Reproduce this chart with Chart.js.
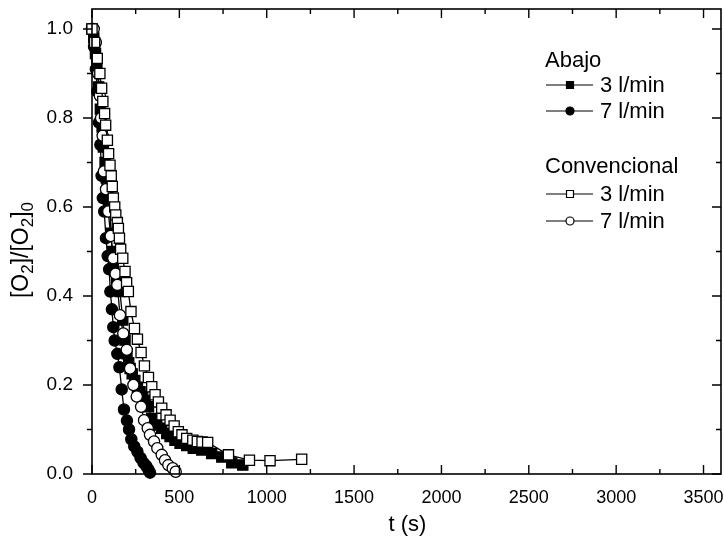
<!DOCTYPE html>
<html>
<head>
<meta charset="utf-8">
<title>[O2]/[O2]0 vs t</title>
<script src="https://cdn.jsdelivr.net/npm/chart.js@4.4.1/dist/chart.umd.min.js"></script>
<style>
  body { margin: 0; background: #fff; }
  #wrap { width: 724px; height: 542px; }
</style>
</head>
<body>
<div id="wrap"><canvas id="o2Chart" width="724" height="542"></canvas></div>
<script>
const FONT = '"Liberation Sans", Arial, Helvetica, sans-serif';

// axis ticks
const xTicks = [0, 500, 1000, 1500, 2000, 2500, 3000, 3500];
const yTicks = [0, 0.2, 0.4, 0.6, 0.8, 1.0];

// Abajo, 3 l/min (filled squares)
const abajo3T = [0, 10, 20, 28, 38, 48, 58, 65, 75, 82, 88, 95, 102, 110, 116, 122, 141, 160, 176, 189, 200, 210, 218, 230, 245, 260, 275, 290, 304, 323, 342, 370, 399, 428, 447, 475, 504, 542, 580, 628, 685, 743, 800, 863];
const abajo3V = [1.0, 0.98, 0.945, 0.92, 0.87, 0.82, 0.78, 0.735, 0.70, 0.665, 0.634, 0.61, 0.59, 0.541, 0.50, 0.462, 0.436, 0.41, 0.346, 0.301, 0.27, 0.25, 0.237, 0.225, 0.21, 0.195, 0.185, 0.175, 0.165, 0.151, 0.125, 0.11, 0.103, 0.091, 0.084, 0.076, 0.069, 0.064, 0.058, 0.054, 0.046, 0.038, 0.025, 0.02];

// Abajo, 7 l/min (filled circles)
const abajo7T = [0, 12, 22, 30, 40, 48, 55, 62, 70, 80, 90, 98, 105, 114, 122, 130, 145, 157, 170, 183, 200, 212, 225, 242, 260, 278, 295, 310, 323, 332];
const abajo7V = [1.0, 0.96, 0.91, 0.86, 0.79, 0.74, 0.67, 0.62, 0.59, 0.53, 0.49, 0.46, 0.41, 0.37, 0.33, 0.30, 0.27, 0.24, 0.19, 0.145, 0.12, 0.10, 0.078, 0.062, 0.05, 0.036, 0.025, 0.018, 0.01, 0.003];

// Convencional, 3 l/min (open squares)
const conv3T = [0, 15, 30, 45, 55, 62, 72, 78, 88, 95, 103, 110, 116, 122, 130, 136, 145, 151, 157, 164, 176, 189, 198, 208, 223, 243, 260, 281, 300, 323, 342, 361, 380, 399, 424, 447, 470, 494, 515, 542, 577, 603, 630, 662, 781, 901, 1019, 1200];
const conv3V = [1.0, 0.97, 0.934, 0.90, 0.867, 0.837, 0.81, 0.784, 0.75, 0.72, 0.694, 0.67, 0.646, 0.62, 0.60, 0.582, 0.565, 0.552, 0.53, 0.505, 0.485, 0.455, 0.43, 0.41, 0.365, 0.327, 0.303, 0.273, 0.243, 0.217, 0.196, 0.178, 0.162, 0.148, 0.133, 0.121, 0.108, 0.095, 0.088, 0.08, 0.076, 0.073, 0.072, 0.071, 0.043, 0.031, 0.03, 0.033];

// Convencional, 7 l/min (open circles)
const conv7T = [10, 22, 35, 45, 52, 61, 68, 80, 93, 107, 122, 135, 145, 160, 179, 199, 218, 237, 256, 281, 298, 319, 332, 355, 374, 399, 418, 437, 462, 479];
const conv7V = [1.0, 0.97, 0.90, 0.85, 0.80, 0.76, 0.68, 0.64, 0.59, 0.535, 0.485, 0.45, 0.425, 0.357, 0.316, 0.279, 0.237, 0.20, 0.174, 0.151, 0.121, 0.103, 0.088, 0.073, 0.058, 0.043, 0.031, 0.02, 0.013, 0.005];

function series(group, label, ts, vs, shape, fill, order) {
  return {
    group: group,
    label: label,
    data: ts.map((t, i) => ({ x: t, y: vs[i] })),
    borderColor: '#000',
    borderWidth: 1.3,
    pointStyle: shape,
    pointRadius: shape === 'rect' ? 7.2 : 5.6,
    pointBackgroundColor: fill,
    pointBorderColor: '#000',
    pointBorderWidth: 1.3,
    tension: 0,
    clip: false,
    order: order
  };
}

// box frame with minor/major ticks (left ticks outward, the rest inward),
// x tick labels and both axis titles
const framePlugin = {
  id: 'frame',
  afterDraw(chart) {
    const { ctx, chartArea: a, scales: { x, y } } = chart;
    ctx.save();
    ctx.strokeStyle = '#000';
    ctx.lineWidth = 1.6;
    ctx.strokeRect(a.left, a.top, a.right - a.left, a.bottom - a.top);
    ctx.lineWidth = 1.4;
    ctx.beginPath();
    const xMinor = xTicks.slice(0, -1).map((v, i) => (v + xTicks[i + 1]) / 2);
    const yMinor = yTicks.slice(0, -1).map((v, i) => (v + yTicks[i + 1]) / 2);
    const tickX = (vals, len) => vals.forEach(v => {
      const px = x.getPixelForValue(v);
      ctx.moveTo(px, a.bottom); ctx.lineTo(px, a.bottom - len);
      ctx.moveTo(px, a.top); ctx.lineTo(px, a.top + len);
    });
    const tickY = (vals, len) => vals.forEach(v => {
      const py = y.getPixelForValue(v);
      ctx.moveTo(a.left, py); ctx.lineTo(a.left - len, py);
      ctx.moveTo(a.right, py); ctx.lineTo(a.right - len, py);
    });
    tickX(xTicks, 9); tickX(xMinor, 5);
    tickY(yTicks, 9); tickY(yMinor, 5);
    ctx.stroke();

    ctx.fillStyle = '#000';
    ctx.textAlign = 'center';
    ctx.textBaseline = 'middle';
    ctx.font = '18px ' + FONT;
    xTicks.forEach(v => ctx.fillText(String(v), x.getPixelForValue(v), a.bottom + 24));

    ctx.font = '22px ' + FONT;
    ctx.fillText('t (s)', (a.left + a.right) / 2 + 1, 525);

    const parts = [['[O', 0], ['2', 1], [']/[O', 0], ['2', 1], [']', 0], ['0', 1]];
    const big = '23px ' + FONT, small = '17px ' + FONT;
    let w = 0;
    parts.forEach(([s, sub]) => { ctx.font = sub ? small : big; w += ctx.measureText(s).width; });
    ctx.translate(28, 250);
    ctx.rotate(-Math.PI / 2);
    ctx.textAlign = 'left';
    ctx.textBaseline = 'alphabetic';
    let cx = -w / 2;
    parts.forEach(([s, sub]) => {
      ctx.font = sub ? small : big;
      ctx.fillText(s, cx, sub ? 5 : 0);
      cx += ctx.measureText(s).width;
    });
    ctx.restore();
  }
};

// grouped legend: header line per group, then sample line + marker + label
const legendPlugin = {
  id: 'groupedLegend',
  afterDraw(chart) {
    const ctx = chart.ctx;
    const sets = chart.data.datasets;
    const heads = [{ name: 'Abajo', base: 67, rows: [85, 111] }, { name: 'Convencional', base: 173, rows: [194, 221] }];
    ctx.save();
    ctx.fillStyle = '#000';
    ctx.strokeStyle = '#000';
    ctx.font = '22px ' + FONT;
    heads.forEach(h => {
      ctx.textAlign = 'left';
      ctx.textBaseline = 'alphabetic';
      ctx.fillText(h.name, 545, h.base);
      const members = sets.filter(d => d.group === h.name);
      members.forEach((d, i) => {
        const ly = h.rows[i];
        ctx.lineWidth = 1.2;
        ctx.beginPath();
        ctx.moveTo(546, ly); ctx.lineTo(593, ly);
        ctx.stroke();
        ctx.fillStyle = d.pointBackgroundColor;
        ctx.beginPath();
        if (d.pointStyle === 'rect') ctx.rect(566.5, ly - 3.5, 7, 7);
        else ctx.arc(570, ly, 4, 0, Math.PI * 2);
        ctx.fill();
        ctx.stroke();
        ctx.fillStyle = '#000';
        ctx.textBaseline = 'middle';
        ctx.fillText(d.label, 600, ly + 1);
        ctx.textBaseline = 'alphabetic';
      });
    });
    ctx.restore();
  }
};

new Chart(document.getElementById('o2Chart').getContext('2d'), {
  type: 'line',
  data: {
    datasets: [
      series('Abajo', '3 l/min', abajo3T, abajo3V, 'rect', '#000', 2),
      series('Abajo', '7 l/min', abajo7T, abajo7V, 'circle', '#000', 3),
      series('Convencional', '3 l/min', conv3T, conv3V, 'rect', '#fff', 0),
      series('Convencional', '7 l/min', conv7T, conv7V, 'circle', '#fff', 1)
    ]
  },
  options: {
    responsive: false,
    animation: false,
    layout: { autoPadding: false, padding: { top: 9, right: 3, left: 0, bottom: 0 } },
    plugins: { legend: { display: false }, tooltip: { enabled: false } },
    scales: {
      x: {
        type: 'linear',
        min: 0,
        max: 3600,
        grid: { display: false },
        border: { display: false },
        afterBuildTicks: s => { s.ticks = xTicks.map(v => ({ value: v })); },
        afterFit: s => { s.height = 68; s.paddingLeft = 0; s.paddingRight = 0; },
        ticks: { display: false }
      },
      y: {
        min: 0,
        max: 1.045,
        grid: { display: false },
        border: { display: false },
        afterBuildTicks: s => { s.ticks = yTicks.map(v => ({ value: v })); },
        afterFit: s => { s.width = 92; s.paddingTop = 0; s.paddingBottom = 0; },
        ticks: { color: '#000', font: { family: FONT, size: 19 }, padding: 11, callback: v => v.toFixed(1) }
      }
    }
  },
  plugins: [framePlugin, legendPlugin]
});
</script>
</body>
</html>
